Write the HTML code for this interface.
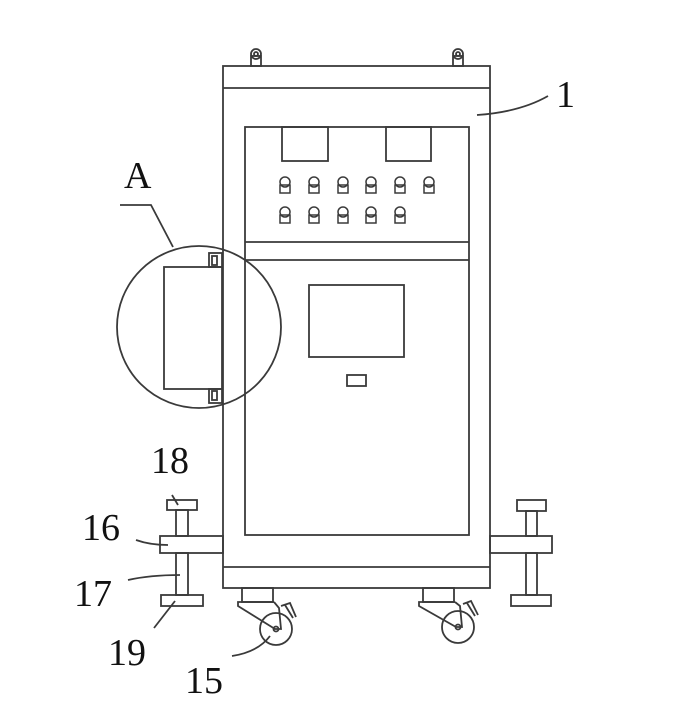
<!DOCTYPE html>
<html><head><style>body{margin:0;background:#fff}svg{display:block}</style></head><body>
<svg width="683" height="707" viewBox="0 0 683 707" xmlns="http://www.w3.org/2000/svg">
<defs>
<g id="btn" fill="none" stroke="#3a3a3a" stroke-width="1.5">
<circle cx="0" cy="-4" r="5"/><rect x="-5" y="-1" width="10" height="8"/>
</g>
</defs>
<g fill="none" stroke="#3a3a3a" stroke-width="1.8">
<rect x="251" y="56" width="10" height="10"/><circle cx="256" cy="54" r="5"/><circle cx="256" cy="54" r="2"/>
<rect x="453" y="56" width="10" height="10"/><circle cx="458" cy="54" r="5"/><circle cx="458" cy="54" r="2"/>
<rect x="223" y="66" width="267" height="522"/>
<line x1="223" y1="88" x2="490" y2="88"/>
<line x1="223" y1="567" x2="490" y2="567"/>
<rect x="245" y="127" width="224" height="408"/>
<line x1="245" y1="242" x2="469" y2="242"/>
<line x1="245" y1="260" x2="469" y2="260"/>
<rect x="282" y="127" width="46" height="34"/>
<rect x="386" y="127" width="45" height="34"/>
<rect x="309" y="285" width="95" height="72"/>
<rect x="347" y="375" width="19" height="11"/>
<ellipse cx="199" cy="327" rx="82" ry="81"/>
<rect x="164" y="267" width="58" height="122"/>
<rect x="209" y="253" width="13" height="14"/><rect x="212" y="256" width="5" height="9"/>
<rect x="209" y="389" width="13" height="14"/><rect x="212" y="391" width="5" height="9"/>
<polyline points="173,247 151,205 120,205"/>
<rect x="160" y="536" width="63" height="17"/>
<rect x="176" y="510" width="12" height="26"/><rect x="176" y="553" width="12" height="42"/>
<rect x="167" y="500" width="30" height="10"/>
<rect x="161" y="595" width="42" height="11"/>
<rect x="490" y="536" width="62" height="17"/>
<rect x="526" y="511" width="11" height="25"/><rect x="526" y="553" width="11" height="42"/>
<rect x="517" y="500" width="29" height="11"/>
<rect x="511" y="595" width="40" height="11"/>
<rect x="242" y="588" width="31" height="14"/>
<polyline points="274,602 238,602 238,606 275,629 281,629 279,608 274,602"/>
<circle cx="276" cy="629" r="16"/><circle cx="276" cy="629" r="2.5"/>
<path d="M281,606 L290,603 L296,617 M285,605 L293,618"/>
<rect x="423" y="588" width="31" height="14"/>
<polyline points="455,602 419,602 419,606 456,627 462,627 460,606 455,602"/>
<circle cx="458" cy="627" r="16"/><circle cx="458" cy="627" r="2.5"/>
<path d="M463,604 L471,601 L478,615 M467,603 L475,616"/>
<path d="M477,115 Q520,112 548,96"/>
<path d="M172,495 L178,505"/>
<path d="M136,540 Q150,545 168,545"/>
<path d="M128,580 Q150,575 180,575"/>
<path d="M154,628 L175,601"/>
<path d="M232,656 Q258,652 270,636"/>
</g>
<use href="#btn" x="285" y="186"/><use href="#btn" x="314" y="186"/><use href="#btn" x="343" y="186"/><use href="#btn" x="371" y="186"/><use href="#btn" x="400" y="186"/><use href="#btn" x="429" y="186"/>
<use href="#btn" x="285" y="216"/><use href="#btn" x="314" y="216"/><use href="#btn" x="343" y="216"/><use href="#btn" x="371" y="216"/><use href="#btn" x="400" y="216"/>
<g font-family="Liberation Serif, serif" font-size="38" fill="#111">
<text x="556" y="107">1</text>
<text x="124" y="188">A</text>
<text x="151" y="473">18</text>
<text x="82" y="540">16</text>
<text x="74" y="606">17</text>
<text x="108" y="665">19</text>
<text x="185" y="693">15</text>
</g>
</svg>
</body></html>
